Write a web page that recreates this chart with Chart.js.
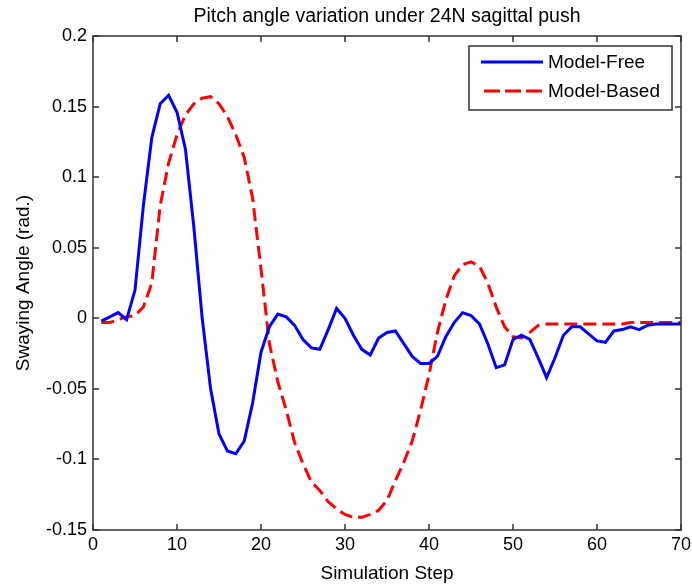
<!DOCTYPE html>
<html>
<head>
<meta charset="utf-8">
<script src="https://cdn.jsdelivr.net/npm/chart.js@4.4.1/dist/chart.umd.min.js"></script>
<style>
  html, body { margin: 0; padding: 0; background: #fff; }
  #wrap { width: 692px; height: 587px; }
</style>
</head>
<body>
<div id="wrap"><canvas id="grafico" width="692" height="587"></canvas></div>
<script>
const passos = [1, 2, 3, 4, 5, 6, 7, 8, 9, 10, 11, 12, 13, 14, 15, 16, 17, 18, 19, 20,
    21, 22, 23, 24, 25, 26, 27, 28, 29, 30, 31, 32, 33, 34, 35, 36, 37, 38, 39, 40,
    41, 42, 43, 44, 45, 46, 47, 48, 49, 50, 51, 52, 53, 54, 55, 56, 57, 58, 59, 60,
    61, 62, 63, 64, 65, 66, 67, 68, 69, 70];

const modelFree = [-0.002, 0.001, 0.004, -0.001, 0.02, 0.08, 0.128, 0.152, 0.158, 0.146,
    0.12, 0.065, 0.0, -0.05, -0.082, -0.094, -0.096, -0.087, -0.06, -0.024,
    -0.006, 0.003, 0.001, -0.005, -0.015, -0.021, -0.022, -0.008, 0.007, 0.0,
    -0.012, -0.022, -0.026, -0.014, -0.01, -0.009, -0.018, -0.027, -0.032, -0.032,
    -0.027, -0.013, -0.003, 0.004, 0.002, -0.004, -0.018, -0.035, -0.033, -0.015,
    -0.012, -0.015, -0.028, -0.042, -0.028, -0.012, -0.006, -0.006, -0.011, -0.016,
    -0.017, -0.009, -0.008, -0.006, -0.008, -0.005, -0.004, -0.004, -0.004, -0.004];

const modelBased = [-0.003, -0.003, -0.001, 0.001, 0.002, 0.008, 0.025, 0.08, 0.11, 0.13,
    0.144, 0.152, 0.156, 0.157, 0.152, 0.143, 0.13, 0.114, 0.085, 0.035,
    -0.018, -0.045, -0.065, -0.088, -0.103, -0.116, -0.122, -0.13, -0.135, -0.139,
    -0.141, -0.141, -0.139, -0.136, -0.129, -0.115, -0.102, -0.087, -0.065, -0.04,
    -0.01, 0.013, 0.03, 0.038, 0.04, 0.037, 0.025, 0.008, -0.006, -0.013,
    -0.014, -0.01, -0.005, -0.004, -0.004, -0.004, -0.004, -0.004, -0.004, -0.004,
    -0.004, -0.004, -0.004, -0.003, -0.003, -0.003, -0.003, -0.003, -0.003, -0.003];

const ticksX = [0, 10, 20, 30, 40, 50, 60, 70];
const ticksY = [0.2, 0.15, 0.1, 0.05, 0, -0.05, -0.1, -0.15];

const titulo = 'Pitch angle variation under 24N sagittal push';
const fonte = '"Liberation Sans", Arial, sans-serif';

// moldura, marcas internas, titulo e legenda no estilo MATLAB
const molduraPlugin = {
    id: 'moldura',
    afterDraw(chart) {
        const ctx = chart.ctx;
        const a = chart.chartArea;
        const sx = chart.scales.x, sy = chart.scales.y;
        ctx.save();
        ctx.strokeStyle = '#333';
        ctx.lineWidth = 1.5;
        ctx.strokeRect(a.left, a.top, a.right - a.left, a.bottom - a.top);
        ctx.beginPath();
        ticksX.forEach(v => {
            const px = Math.round(sx.getPixelForValue(v));
            ctx.moveTo(px, a.bottom); ctx.lineTo(px, a.bottom - 6);
            ctx.moveTo(px, a.top); ctx.lineTo(px, a.top + 6);
        });
        ticksY.forEach(v => {
            const py = Math.round(sy.getPixelForValue(v));
            ctx.moveTo(a.left, py); ctx.lineTo(a.left + 6, py);
            ctx.moveTo(a.right, py); ctx.lineTo(a.right - 6, py);
        });
        ctx.stroke();

        ctx.fillStyle = '#000';
        ctx.font = '19.5px ' + fonte;
        ctx.textAlign = 'center';
        ctx.textBaseline = 'middle';
        ctx.fillText(titulo, (a.left + a.right) / 2, 17);

        // legenda
        const lx = 469, ly = 46, lw = 203, lh = 64;
        ctx.fillStyle = '#fff';
        ctx.fillRect(lx, ly, lw, lh);
        ctx.strokeStyle = '#333';
        ctx.strokeRect(lx, ly, lw, lh);
        ctx.font = '19px ' + fonte;
        ctx.textAlign = 'left';
        chart.data.datasets.forEach((ds, i) => {
            const y = ly + 16 + i * 29;
            ctx.beginPath();
            ctx.strokeStyle = ds.borderColor;
            ctx.lineWidth = ds.borderWidth;
            ctx.setLineDash(ds.borderDash ? [16, 5] : []);
            ctx.lineDashOffset = ds.borderDash ? -3 : 0;
            ctx.moveTo(lx + 12, y); ctx.lineTo(lx + 74, y);
            ctx.stroke();
            ctx.setLineDash([]);
            ctx.fillStyle = '#000';
            ctx.fillText(ds.label, lx + 79, y + 1);
        });
        ctx.restore();
    }
};

const contexto = document.getElementById('grafico');
const grafico = new Chart(contexto, {
    type: 'line',
    data: {
        datasets: [{
            label: 'Model-Free',
            data: passos.map((p, i) => ({ x: p, y: modelFree[i] })),
            borderColor: '#0000ff',
            borderWidth: 3,
            pointRadius: 0,
            tension: 0
        }, {
            label: 'Model-Based',
            data: passos.map((p, i) => ({ x: p, y: modelBased[i] })),
            borderColor: '#ff0000',
            borderWidth: 3,
            borderDash: [13, 6],
            pointRadius: 0,
            tension: 0
        }]
    },
    options: {
        responsive: false,
        animation: false,
        layout: { padding: { top: 36, right: 11, left: 0, bottom: 0 } },
        plugins: {
            legend: { display: false },
            tooltip: { enabled: false }
        },
        scales: {
            x: {
                type: 'linear',
                min: 0,
                max: 70,
                afterBuildTicks: s => { s.ticks = ticksX.map(v => ({ value: v })); },
                grid: { display: false, drawTicks: false },
                border: { display: false },
                ticks: { color: '#000', font: { size: 18, family: fonte }, padding: 4, maxRotation: 0 },
                title: { display: true, text: 'Simulation Step', color: '#000', font: { size: 19, family: fonte }, padding: { top: 0, bottom: 2 } },
                afterFit: s => { s.height = 57; s.paddingLeft = 0; s.paddingRight = 0; }
            },
            y: {
                min: -0.15,
                max: 0.2,
                afterBuildTicks: s => { s.ticks = ticksY.map(v => ({ value: v })); },
                grid: { display: false, drawTicks: false },
                border: { display: false },
                ticks: { color: '#000', font: { size: 18, family: fonte }, padding: 6, callback: v => String(v) },
                title: { display: true, text: 'Swaying Angle (rad.)', color: '#000', font: { size: 19, family: fonte }, padding: { top: 12, bottom: 4 } },
                afterFit: s => { s.width = 93; s.paddingTop = 0; s.paddingBottom = 0; }
            }
        }
    },
    plugins: [molduraPlugin]
});
</script>
</body>
</html>
